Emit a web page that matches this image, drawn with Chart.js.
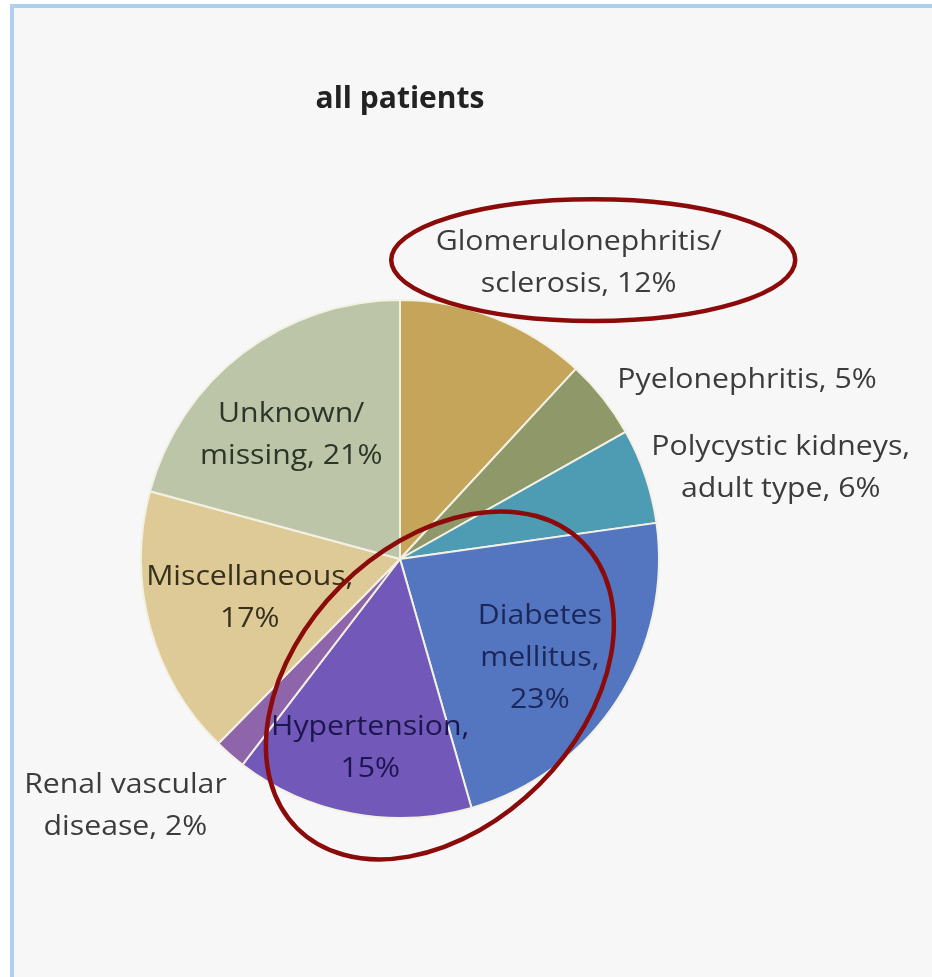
<!DOCTYPE html>
<html lang="en">
<head>
    <meta charset="UTF-8">
    <title>all patients</title>
    <script src="https://cdn.jsdelivr.net/npm/chart.js"></script>
    <style>
        html, body {
            margin: 0;
            padding: 0;
            background: #ffffff;
        }
        .frame {
            position: absolute;
            left: 10px;
            top: 4px;
            width: 922px;
            height: 973px;
            background: #f7f7f7;
            border-top: 4px solid #aecfee;
            border-left: 4px solid #aecfee;
            box-sizing: border-box;
        }
        .chart-box {
            position: absolute;
            left: 0;
            top: 0;
            width: 932px;
            height: 977px;
        }
    </style>
</head>
<body>
    <div class="frame"></div>
    <div class="chart-box">
        <canvas id="causesPie"></canvas>
    </div>
    <script>
        // Primary renal disease, all patients (share in %)
        const categories = [
            "Glomerulonephritis/|sclerosis", "Pyelonephritis", "Polycystic kidneys,|adult type",
            "Diabetes|mellitus", "Hypertension", "Renal vascular|disease",
            "Miscellaneous", "Unknown/|missing"
        ];
        const shares = [12, 5, 6, 23, 15, 2, 17, 21];
        // break the line before the percentage for these slices
        const breakBeforePct = [false, false, false, true, true, false, true, false];

        const sliceColors = [
            '#c4a55a', '#8f9868', '#4e9bb4', '#5476c0',
            '#7158b9', '#8e64aa', '#deca96', '#bdc5a9'
        ];

        // label placement, in units of the pie radius from its centre
        const labelStyle = [
            { fx: 0.69, fy: -1.14, color: '#3c3c3c' },
            { fx: 1.34, fy: -0.69, color: '#3c3c3c' },
            { fx: 1.47, fy: -0.35, color: '#3c3c3c' },
            { fx: 0.54, fy: 0.385, color: '#1b275a' },
            { fx: -0.115, fy: 0.73, color: '#1d164e' },
            { fx: -1.06, fy: 0.955, color: '#3c3c3c' },
            { fx: -0.58, fy: 0.15, color: '#36301c' },
            { fx: -0.42, fy: -0.477, color: '#2c3628' }
        ];

        // red rings drawn over the chart
        const rings = [
            { fx: 0.746, fy: -1.154, rx: 0.78, ry: 0.235, rot: 0 },
            { fx: 0.154, fy: 0.488, rx: 0.78, ry: 0.542, rot: -Math.PI / 4 }
        ];

        const sliceLabels = {
            id: 'sliceLabels',
            afterDatasetsDraw(chart) {
                const arc = chart.getDatasetMeta(0).data[0];
                const cx = arc.x, cy = arc.y, r = arc.outerRadius;
                const ctx = chart.ctx;
                ctx.save();
                ctx.font = '27px "Open Sans", sans-serif';
                ctx.textAlign = 'center';
                ctx.textBaseline = 'middle';
                const lh = 42;
                const stretch = 1.12; // the source lettering is a little wide
                categories.forEach((cat, i) => {
                    const text = cat + ',' + (breakBeforePct[i] ? '|' : ' ') + shares[i] + '%';
                    const lines = text.split('|');
                    const st = labelStyle[i];
                    const x = cx + st.fx * r;
                    const y0 = cy + st.fy * r - (lines.length - 1) * lh / 2;
                    ctx.fillStyle = st.color;
                    lines.forEach((ln, k) => {
                        ctx.save();
                        ctx.translate(x, y0 + k * lh);
                        ctx.scale(stretch, 1);
                        ctx.fillText(ln, 0, 0);
                        ctx.restore();
                    });
                });
                ctx.strokeStyle = '#8b0a0a';
                ctx.lineWidth = 4.5;
                rings.forEach(e => {
                    ctx.beginPath();
                    ctx.ellipse(cx + e.fx * r, cy + e.fy * r, e.rx * r, e.ry * r, e.rot, 0, Math.PI * 2);
                    ctx.stroke();
                });
                ctx.restore();
            }
        };

        new Chart(document.getElementById('causesPie'), {
            type: 'pie',
            data: {
                labels: categories.map(c => c.replace('|', ' ')),
                datasets: [{
                    data: shares,
                    backgroundColor: sliceColors,
                    borderColor: '#f3f1e4',
                    borderWidth: 2
                }]
            },
            options: {
                responsive: true,
                maintainAspectRatio: false,
                animation: false,
                layout: {
                    padding: { left: 140, right: 272, top: 0, bottom: 158 }
                },
                plugins: {
                    legend: { display: false },
                    tooltip: { enabled: false },
                    title: {
                        display: true,
                        text: 'all patients',
                        color: '#222222',
                        font: { family: '"Open Sans", sans-serif', size: 30, weight: 'bold' },
                        padding: { top: 81, bottom: 182 }
                    }
                }
            },
            plugins: [sliceLabels]
        });
    </script>
</body>
</html>
